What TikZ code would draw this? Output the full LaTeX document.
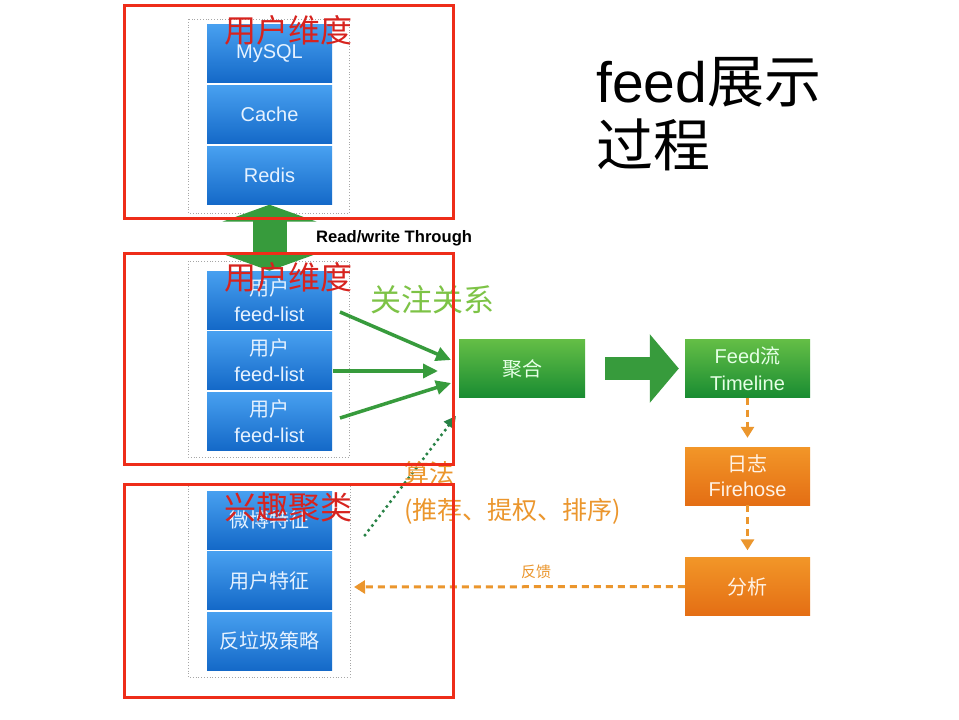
\documentclass[tikz,border=0pt]{standalone}
\usepackage{fontspec}
\setmainfont{Liberation Sans}
\newfontfamily\cjk{Noto Sans CJK SC}
\usetikzlibrary{arrows.meta}
\definecolor{redbox}{RGB}{238,45,25}
\definecolor{redtxt}{RGB}{215,35,30}
\definecolor{bluetop}{RGB}{72,160,240}
\definecolor{bluebot}{RGB}{20,105,200}
\definecolor{greentop}{RGB}{100,190,70}
\definecolor{greenbot}{RGB}{25,140,50}
\definecolor{orangetop}{RGB}{242,150,40}
\definecolor{orangebot}{RGB}{228,110,20}
\definecolor{arrowgreen}{RGB}{55,155,60}
\definecolor{lightgreen}{RGB}{125,195,70}
\definecolor{orangetxt}{RGB}{235,150,45}
\definecolor{dotgreen}{RGB}{40,130,70}
\definecolor{boxtxt}{RGB}{230,242,255}
\tikzset{
  box/.style={rectangle, inner sep=0pt, align=center, minimum width=125, minimum height=58},
  bluebox/.style={box, top color=bluetop, bottom color=bluebot, text=boxtxt, font=\fontsize{20}{26}\selectfont},
  greenbox/.style={box, minimum width=126, top color=greentop, bottom color=greenbot, text=green!10!white, font=\fontsize{20}{27}\selectfont},
  orangebox/.style={box, top color=orangetop, bottom color=orangebot, text=orange!10!white, font=\fontsize{20}{25}\selectfont},
  redframe/.style={draw=redbox, line width=3pt},
  dotframe/.style={draw=gray!70, line width=0.8pt, dotted},
  redlabel/.style={text=redtxt, font=\cjk\fontsize{32}{34}\selectfont, inner sep=0pt},
  feedarrow/.style={draw=arrowgreen, line width=3.5pt, -{Triangle[length=15pt,width=14pt]}},
  odash/.style={draw=orangetxt, line width=3pt, dash pattern=on 7pt off 5pt, -{Triangle[length=11pt,width=13pt]}},
}
\begin{document}
\begin{tikzpicture}[x=1pt,y=-1pt]
\useasboundingbox[fill=white] (0,0) rectangle (959,720);
% dotted frames
\draw[dotframe] (188,19) rectangle (349,213);
\draw[dotframe] (188,261) rectangle (349,457);
\draw[dotframe] (188,483) rectangle (350,677);
% blue stacks
\node[bluebox] (mysql) at (269.5,53.5) {MySQL};
\node[bluebox] (cache) at (269.5,114.5) {Cache};
\node[bluebox] (redis) at (269.5,175.5) {Redis};
\node[bluebox] (fl1) at (269.5,300) {{\cjk 用户}\\feed-list};
\node[bluebox] (fl2) at (269.5,360.5) {{\cjk 用户}\\feed-list};
\node[bluebox] (fl3) at (269.5,421) {{\cjk 用户}\\feed-list};
\node[bluebox] (wb) at (269.5,520) {\cjk 微博特征};
\node[bluebox] (uf) at (269.5,580.5) {\cjk 用户特征};
\node[bluebox] (spam) at (269.5,641) {\cjk 反垃圾策略};
% right boxes
\node[greenbox] (agg) at (522,368.5) {\cjk 聚合};
\node[greenbox, minimum width=125] (tl) at (747.5,368.5) {Feed{\cjk 流}\\Timeline};
\node[orangebox] (log) at (747.5,476) {{\cjk 日志}\\Firehose};
\node[orangebox] (ana) at (747.5,586.5) {\cjk 分析};
% double arrow
\draw[draw=arrowgreen, line width=34pt, {Triangle[length=17pt,width=94pt]}-{Triangle[length=17pt,width=94pt]}] (redis.south) -- (fl1.north);
\node[anchor=west, inner sep=0pt, font=\bfseries\fontsize{16.6}{18}\selectfont] (rw) at (316,238) {Read/write Through};
% big arrow
\draw[draw=arrowgreen, line width=23pt, -{Triangle[length=29pt,width=67pt]}] ([xshift=20pt]agg.east) -- ([xshift=-6pt]tl.west);
% feed arrows
\coordinate (s1) at (340,312); \coordinate (e1) at (451,360);
\coordinate (s2) at (333,371); \coordinate (e2) at (438,371);
\coordinate (s3) at (340,418); \coordinate (e3) at (451,383);
\draw[feedarrow] (s1) -- (e1);
\draw[feedarrow] (s2) -- (e2);
\draw[feedarrow] (s3) -- (e3);
% dotted algorithm arrow
\coordinate (d1) at (365,535); \coordinate (d2) at (456,416);
\draw[draw=dotgreen, line width=3.5pt, line cap=round, dash pattern=on 0pt off 6pt, -{Triangle[length=12pt,width=12pt]}] (d1) -- (d2);
% orange arrows
\draw[odash] (tl.south) -- ([yshift=9pt]log.north);
\draw[odash] (log.south) -- ([yshift=7pt]ana.north);
\coordinate (fbend) at (354,587);
\draw[odash] (ana.west) -- (fbend);
\node[text=orangetxt, font=\cjk\fontsize{15}{17}\selectfont, inner sep=0pt] (fb) at (536,572) {反馈};
% labels
\node[text=lightgreen, font=\cjk\fontsize{31}{33}\selectfont, inner sep=0pt] (gz) at (432,300) {关注关系};
\node[text=orangetxt, font=\cjk\fontsize{25}{37}\selectfont, align=left, anchor=west, inner sep=0pt] (alg) at (404,493) {算法\\(推荐、提权、排序)};
\node[anchor=west, align=left, inner sep=0pt, font=\fontsize{57}{64}\selectfont] (title) at (596,114) {feed{\cjk 展示}\\{\cjk 过程}};
% red frames
\draw[redframe] (124,5) rectangle (453,218);
\draw[redframe] (124,253) rectangle (453,464);
\draw[redframe] (124,484) rectangle (453,697);
\node[redlabel] (l1) at (288,30) {用户维度};
\node[redlabel] (l2) at (288,277) {用户维度};
\node[redlabel] (l3) at (288,507) {兴趣聚类};
\end{tikzpicture}
\end{document}
